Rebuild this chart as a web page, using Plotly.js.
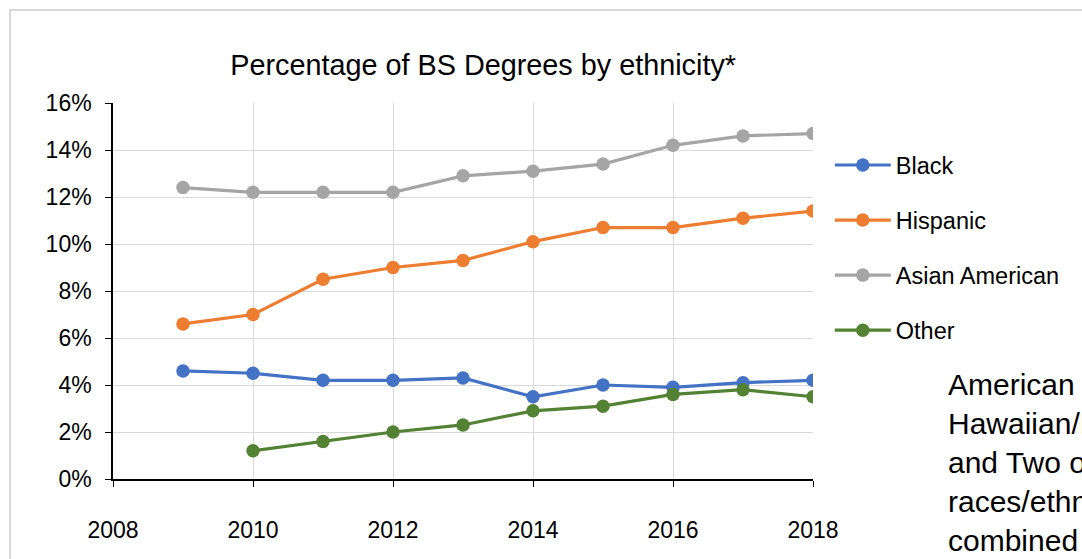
<!DOCTYPE html>
<html>
<head>
<meta charset="utf-8">
<script src="https://cdn.plot.ly/plotly-3.0.1.min.js"></script>
<style>
  html, body { margin: 0; padding: 0; background: #fff; }
  #wrap { position: relative; width: 1082px; height: 559px; overflow: hidden; }
  #frame { position: absolute; left: 9px; top: 9px; width: 1200px; height: 700px;
           border: 2px solid #d9d9d9; box-sizing: border-box; pointer-events: none; }
  #chart { position: absolute; left: 0; top: 0; width: 1082px; height: 559px; }
</style>
</head>
<body>
<div id="wrap">
  <div id="chart"></div>
  <div id="frame"></div>
</div>
<script>
// Share of BS degrees awarded, by ethnicity (percent)
const years    = [2009, 2010, 2011, 2012, 2013, 2014, 2015, 2016, 2017, 2018];
const black    = [4.6, 4.5, 4.2, 4.2, 4.3, 3.5, 4.0, 3.9, 4.1, 4.2];
const hispanic = [6.6, 7.0, 8.5, 9.0, 9.3, 10.1, 10.7, 10.7, 11.1, 11.4];
const asian    = [12.4, 12.2, 12.2, 12.2, 12.9, 13.1, 13.4, 14.2, 14.6, 14.7];
const other    = [null, 1.2, 1.6, 2.0, 2.3, 2.9, 3.1, 3.6, 3.8, 3.5];

const seriesNames  = ['Black', 'Hispanic', 'Asian American', 'Other'];
const seriesValues = [black, hispanic, asian, other];
const seriesColors = ['#4472C4', '#ED7D31', '#A5A5A5', '#548235'];

const yTicks = [0, 2, 4, 6, 8, 10, 12, 14, 16];
const xTicks = [2008, 2010, 2012, 2014, 2016, 2018];

// footnote for the "Other" group
const noteLines = ['American Indian/Alaska Native/', 'Hawaiian/Pacific Islander', 'and Two or more',
                   'races/ethnicities', 'combined'];

const font = 'Liberation Sans, Arial, sans-serif';

const traces = seriesNames.map((name, i) => ({
  type: 'scatter',
  mode: 'lines+markers',
  name: name,
  x: years,
  y: seriesValues[i],
  legendgroup: 'g' + i,
  line: { color: seriesColors[i], width: 3.2 },
  marker: { color: seriesColors[i], size: 13.5 },
  hoverinfo: 'x+y+name'
}));

const layout = {
  width: 1082,
  height: 559,
  margin: { l: 113, r: 269, t: 103, b: 80 },
  paper_bgcolor: '#fff',
  plot_bgcolor: '#fff',
  title: {
    text: 'Percentage of BS Degrees by ethnicity*',
    font: { family: font, size: 28.8, color: '#000' },
    x: 0.4465, xanchor: 'center',
    y: 0.883, yanchor: 'middle'
  },
  xaxis: {
    range: [2008, 2018],
    tickvals: xTicks,
    ticktext: xTicks.map(String),
    showgrid: true,
    gridcolor: '#d9d9d9',
    gridwidth: 1,
    showline: true,
    linecolor: '#000',
    linewidth: 1.5,
    ticks: 'outside',
    ticklen: 6,
    tickcolor: '#000',
    ticklabelstandoff: 24,
    tickfont: { family: font, size: 23, color: '#000' },
    zeroline: false,
    fixedrange: true
  },
  yaxis: {
    range: [0, 16],
    tickvals: yTicks,
    ticktext: yTicks.map(v => v + '%'),
    showgrid: true,
    gridcolor: '#d9d9d9',
    gridwidth: 1,
    showline: true,
    linecolor: '#000',
    linewidth: 1.5,
    ticks: 'outside',
    ticklen: 6,
    tickcolor: '#000',
    ticklabelstandoff: 9,
    tickfont: { family: font, size: 23, color: '#000' },
    zeroline: false,
    fixedrange: true
  },
  showlegend: true,
  legend: {
    x: 1.024, xanchor: 'left',
    y: 0.893, yanchor: 'top',
    traceorder: 'grouped',
    tracegroupgap: 21.5,
    itemwidth: 56,
    font: { family: font, size: 23.5, color: '#000' },
    bgcolor: 'rgba(0,0,0,0)'
  },
  annotations: [{
    xref: 'paper', yref: 'paper',
    x: 1.19, y: 0.3,
    xanchor: 'left', yanchor: 'top',
    align: 'left',
    showarrow: false,
    text: noteLines.join('<br>'),
    font: { family: font, size: 30, color: '#000' }
  }]
};

Plotly.newPlot('chart', traces, layout, { displayModeBar: false });
</script>
</body>
</html>
